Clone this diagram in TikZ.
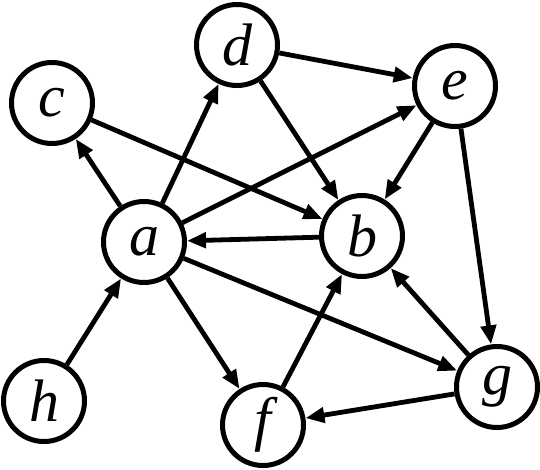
\documentclass[tikz,border=0pt]{standalone}
\usepackage{fontspec}
\setmainfont{Liberation Serif}
\usetikzlibrary{arrows.meta}
\begin{document}
\begin{tikzpicture}[x=1pt,y=-1pt,
  vtx/.style={circle,draw=black,line width=5pt,minimum size=81pt,inner sep=0pt,font=\fontsize{60}{60}\selectfont\itshape},
  edg/.style={line width=4.8pt,-{Triangle[length=19pt,width=15pt]}}]
\useasboundingbox (0,0) rectangle (540,469);
\node[vtx] (a) at (144,242) {a};
\node[vtx] (b) at (362,236) {b};
\node[vtx] (c) at (52,103) {c};
\node[vtx] (d) at (237,45) {d};
\node[vtx] (e) at (455,86) {e};
\node[vtx] (f) at (263,425) {f};
\node[vtx] (g) at (497,387) {g};
\node[vtx] (h) at (44,401) {h};
\draw[edg] (a) -- (c);
\draw[edg] (a) -- (d);
\draw[edg] (a) -- (e);
\draw[edg] (b) -- (a);
\draw[edg] (a) -- (f);
\draw[edg] (a) -- (g);
\draw[edg] (h) -- (a);
\draw[edg] (c) -- (b);
\draw[edg] (d) -- (e);
\draw[edg] (d) -- (b);
\draw[edg] (e) -- (b);
\draw[edg] (e) -- (g);
\draw[edg] (g) -- (b);
\draw[edg] (g) -- (f);
\draw[edg] (f) -- (b);
\end{tikzpicture}
\end{document}
